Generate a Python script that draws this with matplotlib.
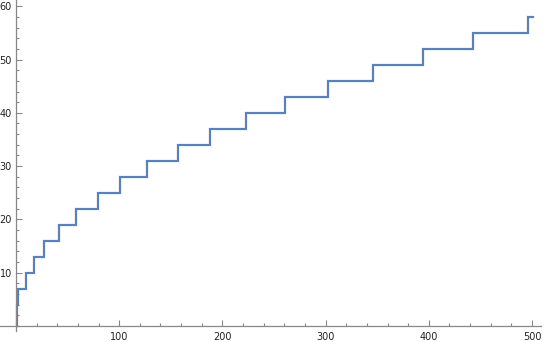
import matplotlib
matplotlib.use("Agg")
import matplotlib.pyplot as plt
from matplotlib.ticker import MultipleLocator, FixedLocator

# step change positions (x) and the level reached there (y)
step_x = [0.7, 0.7, 2.2, 9.4, 17, 27.5, 42, 58, 79, 101, 127, 157, 188, 223, 261, 302, 346, 394, 443, 496, 501]
step_y = [0, 4, 7, 10, 13, 16, 19, 22, 25, 28, 31, 34, 37, 40, 43, 46, 49, 52, 55, 58, 58]

x_ticks = [100, 200, 300, 400, 500]
y_ticks = [10, 20, 30, 40, 50, 60]

fig = plt.figure(figsize=(5.44, 3.42), dpi=100)
ax = fig.add_axes([0.0, 0.031, 0.995, 0.968])

ax.step(step_x, step_y, where='post', color='#5E81B5', lw=1.6, solid_joinstyle='miter')

ax.set_xlim(-15.5, 509)
ax.set_ylim(-1.0, 61.1)

for s in ['top', 'right']:
    ax.spines[s].set_visible(False)
ax.spines['left'].set_position(('data', 0))
ax.spines['bottom'].set_position(('data', 0))
for s in ['left', 'bottom']:
    ax.spines[s].set_color('#888888')
    ax.spines[s].set_linewidth(0.9)

ax.xaxis.set_major_locator(FixedLocator(x_ticks))
ax.yaxis.set_major_locator(FixedLocator(y_ticks))
ax.xaxis.set_minor_locator(MultipleLocator(20))
ax.yaxis.set_minor_locator(MultipleLocator(2))
ax.tick_params(which='both', direction='in', color='#888888', width=0.8, labelsize=7, labelcolor='#222222')
ax.tick_params(which='major', length=4.5)
ax.tick_params(which='minor', length=2.5)
ax.tick_params(axis='x', pad=4)
ax.tick_params(axis='y', pad=3)
ax.patch.set_alpha(0)

fig.savefig('out.png', dpi=100)
